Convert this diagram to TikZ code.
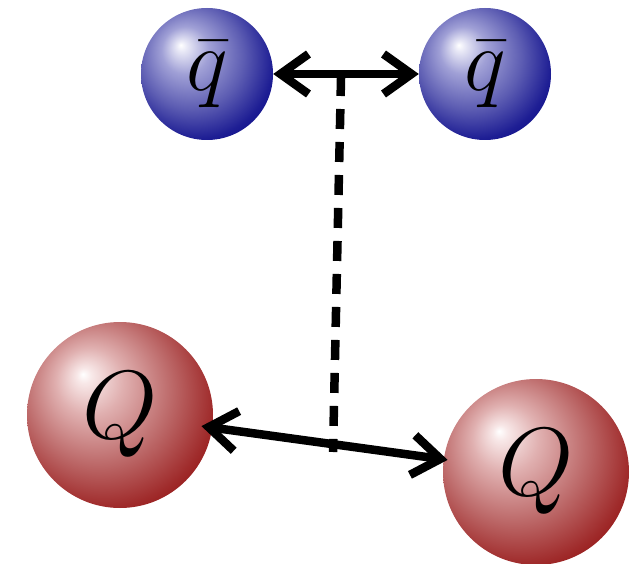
\documentclass[tikz,border=0pt]{standalone}
\usepackage{graphicx}
\usetikzlibrary{arrows.meta,calc}
\definecolor{qa0}{RGB}{232,232,246}
\definecolor{qa1}{RGB}{160,160,214}
\definecolor{qa2}{RGB}{92,92,178}
\definecolor{qa3}{RGB}{30,30,148}
\definecolor{qa4}{RGB}{0,0,128}
\definecolor{Qa0}{RGB}{248,232,232}
\definecolor{Qa1}{RGB}{224,176,176}
\definecolor{Qa2}{RGB}{188,104,104}
\definecolor{Qa3}{RGB}{160,44,44}
\definecolor{Qa4}{RGB}{138,0,0}
\pgfdeclareradialshading{blueball}{\pgfpoint{-10bp}{11bp}}{color(0bp)=(white); color(2bp)=(qa0); color(9bp)=(qa1); color(20bp)=(qa2); color(29bp)=(qa3); color(37bp)=(qa4); color(50bp)=(qa4)}
\pgfdeclareradialshading{redball}{\pgfpoint{-10bp}{11bp}}{color(0bp)=(white); color(2bp)=(Qa0); color(9bp)=(Qa1); color(20bp)=(Qa2); color(29bp)=(Qa3); color(37bp)=(Qa4); color(50bp)=(Qa4)}
\newcommand{\bigsym}[2]{\scalebox{#1}{\Huge$#2$}}
\tikzset{
  antiq/.style={circle, inner sep=0pt, minimum size=132pt, shading=blueball},
  heavyQ/.style={circle, inner sep=0pt, minimum size=186pt, shading=redball},
  bond/.style={line width=8.5pt, {Straight Barb[length=28pt,width=40pt,line width=8.5pt]}-{Straight Barb[length=28pt,width=40pt,line width=8.5pt]}},
  string/.style={line width=8.5pt, dash pattern=on 20pt off 13pt}
}
\begin{document}
\begin{tikzpicture}[x=1pt,y=-1pt]
\useasboundingbox (0,0) rectangle (643,564);
\node[antiq] (qa) at (207,74) {\bigsym{3.55}{\bar{q}}};
\node[antiq] (qb) at (485,74) {\bigsym{3.55}{\bar{q}}};
\node[heavyQ] (Qa) at (120,415) {\bigsym{3.9}{Q}};
\node[heavyQ] (Qb) at (536,472) {\bigsym{3.9}{Q}};
\coordinate (dt) at ($(qa.east)!0.466!(qb.west)+(0,2)$);
\coordinate (db) at (333,452);
\draw[string] (dt) -- (db);
\draw[bond] (qa.east) -- (qb.west);
\draw[bond, shorten <=-11pt, shorten >=-4pt] (Qa) -- (Qb);
\end{tikzpicture}
\end{document}
